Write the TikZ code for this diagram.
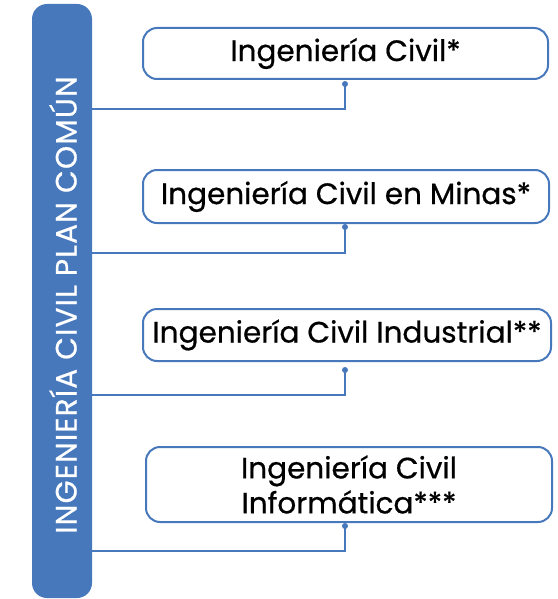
\documentclass[tikz,border=0pt]{standalone}
\usepackage{fontspec}
\setmainfont{Poppins}[FakeBold=0.6]
\newfontfamily\barfont{Poppins}[FakeBold=0.5,LetterSpace=4]
\definecolor{ublue}{RGB}{72,120,188}
\begin{document}
\begin{tikzpicture}[x=1pt,y=-1pt,
  prog/.style={draw=ublue,line width=2pt,rounded corners=14pt,fill=white},
  conn/.style={draw=ublue,line width=2pt},
  lbl/.style={font=\fontsize{29.5}{35}\selectfont,text=black,align=center},
  dotc/.style={fill=ublue,circle,inner sep=0pt,minimum size=6pt}]
\useasboundingbox (0,0) rectangle (557,599);
% left bar
\node[fill=ublue,rounded corners=15pt,minimum width=60pt,minimum height=594pt,inner sep=0pt] (bar) at (62,301) {};
\node[rotate=90,text=white,font=\barfont\fontsize{29.5}{35}\selectfont] (bartxt) at (63,305) {INGENIERÍA CIVIL PLAN COMÚN};
% boxes
\path[prog] (143,28) rectangle (548,79);
\node[lbl] (b1) at (345.5,53.5) {Ingeniería Civil*};
\path[prog] (143,170) rectangle (549,223);
\node[lbl] (b2) at (346,196.5) {Ingeniería Civil en Minas*};
\path[prog] (143,309) rectangle (551,361);
\node[lbl] (b3) at (347,335) {Ingeniería Civil Industrial**};
\path[prog] (146,447) rectangle (552,522);
\node[lbl] (b4) at (349,484.5) {Ingeniería Civil\\Informática***};
% connectors
\foreach \d/\l/\n in {84/109/1,227/253/2,370/395/3,526/551/4}{
  \coordinate (d\n) at (345,\d);
  \coordinate (e\n) at (92,\l);
  \draw[conn] (e\n) -| (d\n);
  \node[dotc] at (d\n) {};
}
\end{tikzpicture}
\end{document}
